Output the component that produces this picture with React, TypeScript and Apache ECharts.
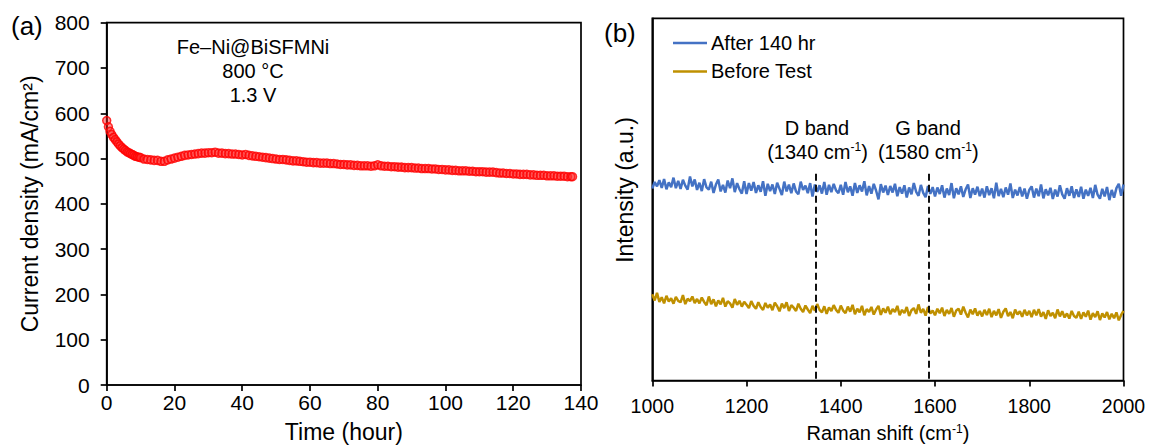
import { useEffect, useRef } from "react";
import * as echarts from "echarts";

const FONT = "'Liberation Sans', Arial, sans-serif";

// Panel (a): stability test at 800 °C, 1.3 V
const timeHours = [
  0, 0.5, 1, 1.5, 2, 2.5, 3, 3.5, 4, 4.5, 5, 5.5, 6, 6.5, 7, 7.5, 8, 8.5, 9, 9.5, 10,
  11, 12, 13, 14, 15, 16, 17, 18, 19, 20, 21, 22, 23, 24, 25, 26, 27, 28, 29, 30,
  31, 32, 33, 34, 35, 36, 37, 38, 39, 40, 41, 42, 43, 44, 45, 46, 47, 48, 49, 50,
  51, 52, 53, 54, 55, 56, 57, 58, 59, 60, 61, 62, 63, 64, 65, 66, 67, 68, 69, 70,
  71, 72, 73, 74, 75, 76, 77, 78, 79, 80, 81, 82, 83, 84, 85, 86, 87, 88, 89, 90,
  91, 92, 93, 94, 95, 96, 97, 98, 99, 100, 101, 102, 103, 104, 105, 106, 107, 108, 109, 110,
  111, 112, 113, 114, 115, 116, 117, 118, 119, 120, 121, 122, 123, 124, 125, 126, 127, 128, 129, 130,
  131, 132, 133, 134, 135, 136, 137, 137.5,
];
const currentDensity = [
  584, 570, 560, 553, 547, 542, 537, 532, 528, 524, 521, 518, 515, 513, 511, 509, 507, 505, 504, 503, 502,
  499, 498, 497, 496, 496, 494, 494, 497, 499, 501, 503, 505, 507, 508, 509, 510, 511, 512, 512, 513,
  513, 514, 512, 512, 511, 511, 510, 510, 509, 508, 509, 507, 506, 505, 504, 503, 502, 501, 500, 499,
  498, 498, 497, 496, 495, 495, 494, 493, 492, 492, 491, 491, 490, 490, 490, 489, 489, 488, 487, 487,
  486, 486, 485, 485, 484, 484, 484, 483, 484, 486, 484, 483, 483, 482, 482, 481, 481, 480, 480, 480,
  479, 479, 478, 478, 478, 477, 477, 476, 476, 475, 475, 474, 474, 473, 473, 473, 472, 472, 471, 471,
  471, 470, 470, 470, 469, 468, 468, 467, 467, 466, 466, 465, 465, 465, 464, 464, 463, 463, 463, 462,
  462, 462, 461, 461, 461, 460, 460, 460,
];

// Panel (b): Raman spectra, 1000–2000 cm-1 sampled every 5 cm-1
const ramanShift = Array.from({ length: 201 }, (_, i) => 1000 + i * 5);
const after140hr = [
  530, 548, 536, 553, 532, 556, 528, 547, 534, 560, 531, 551, 529, 554, 538, 527, 563, 536, 555, 526,
  546, 523, 556, 533, 527, 549, 518, 541, 555, 522, 540, 519, 552, 531, 558, 520, 545, 528, 516, 550,
  515, 545, 524, 548, 518, 539, 521, 550, 510, 543, 523, 541, 515, 546, 529, 512, 549, 522, 541, 517,
  544, 522, 514, 549, 526, 538, 517, 545, 508, 541, 521, 539, 516, 548, 513, 540, 520, 543, 525, 517,
  540, 513, 548, 520, 536, 510, 545, 518, 539, 522, 550, 511, 537, 516, 543, 524, 500, 542, 519, 538,
  512, 537, 519, 543, 509, 534, 516, 539, 505, 533, 514, 545, 521, 510, 540, 518, 506, 537, 515, 534,
  508, 533, 515, 539, 505, 530, 512, 545, 503, 531, 514, 536, 507, 528, 541, 504, 531, 513, 535, 509,
  530, 505, 536, 512, 531, 503, 546, 509, 529, 506, 533, 513, 544, 504, 527, 511, 534, 508, 530, 502,
  526, 536, 505, 530, 509, 541, 503, 528, 511, 532, 501, 527, 508, 539, 514, 502, 531, 510, 536, 504,
  528, 507, 535, 502, 527, 510, 532, 504, 540, 513, 502, 529, 508, 534, 498, 526, 505, 531, 543, 510,
  541,
];
const beforeTest = [
  238, 221, 242, 217, 230, 213, 234, 218, 227, 212, 231, 220, 216, 236, 211, 226, 219, 232, 214, 225,
  213, 229, 217, 208, 232, 211, 224, 205, 221, 210, 228, 204, 219, 213, 201, 225, 209, 220, 204, 217,
  209, 200, 219, 206, 198, 216, 203, 195, 214, 201, 210, 194, 215, 205, 191, 212, 200, 216, 192, 208,
  201, 192, 212, 198, 189, 207, 196, 186, 206, 193, 211, 195, 188, 205, 184, 202, 192, 208, 195, 187,
  207, 193, 186, 204, 190, 209, 183, 198, 188, 206, 180, 197, 189, 203, 182, 196, 206, 181, 199, 187,
  204, 183, 197, 189, 206, 180, 195, 186, 203, 178, 194, 200, 184, 210, 187, 198, 179, 203, 185, 193,
  180, 198, 186, 201, 178, 195, 184, 200, 176, 193, 198, 182, 204, 187, 174, 196, 183, 199, 179, 192,
  177, 195, 181, 198, 175, 192, 180, 197, 173, 190, 199, 178, 189, 172, 196, 182, 191, 176, 195, 180,
  192, 175, 195, 180, 197, 176, 189, 170, 194, 178, 187, 172, 196, 177, 191, 174, 185, 171, 192, 178,
  173, 190, 170, 188, 176, 193, 168, 186, 175, 191, 167, 185, 174, 189, 169, 184, 172, 188, 166, 181,
  192,
];
const bandPositions = [1347, 1586];
const bandLineTop = 571;
const bandNames = ["D band", "G band"];
const bandLabels = ["1340", "1580"];

export default function App() {
  const ref = useRef<HTMLDivElement>(null);

  useEffect(() => {
    if (!ref.current) return;
    const chart = echarts.init(ref.current, undefined, { renderer: "svg" });
    const black = "#000";
    const axisLine = { show: true, lineStyle: { color: black, width: 1.7 } };
    const axisTick = { show: true, inside: false, length: 6, lineStyle: { color: black, width: 1.7 } };
    const supRich = (size: number) => ({
      a: { fontSize: size, color: black, fill: black, fontFamily: FONT },
      s: { fontSize: Math.round(size * 0.6), color: black, fill: black, fontFamily: FONT, verticalAlign: "top", padding: [0, 0, Math.round(size * 0.45), 0] },
    });

    const gridA = { left: 106.7, top: 22.7, width: 474.3, height: 369 };
    const gridB = { left: 652.3, top: 18.3, width: 471.2, height: 365 };

    const option: any = {
      animation: false,
      textStyle: { fontFamily: FONT, color: black },
      grid: [
        { ...gridA, show: true, borderColor: black, borderWidth: 1.7, backgroundColor: "transparent" },
        { ...gridB, show: true, borderColor: black, borderWidth: 1.7, backgroundColor: "transparent" },
      ],
      xAxis: [
        {
          gridIndex: 0, type: "value", min: 0, max: 140, interval: 20,
          axisLine, axisTick,
          axisLabel: { color: black, fontSize: 21, fontFamily: FONT, margin: 7 },
          splitLine: { show: false },
          name: "Time (hour)", nameLocation: "middle", nameGap: 35,
          nameTextStyle: { fontSize: 23, color: black, fontFamily: FONT },
        },
        {
          gridIndex: 1, type: "value", min: 1000, max: 2000, interval: 200,
          axisLine, axisTick,
          axisLabel: { color: black, fontSize: 19.5, fontFamily: FONT, margin: 15, formatter: (v: number) => String(v) },
          splitLine: { show: false },
          name: "{a|Raman shift (cm}{s|-1}{a|)}", nameLocation: "middle", nameGap: 42,
          nameTextStyle: { rich: supRich(20) },
        },
      ],
      yAxis: [
        {
          gridIndex: 0, type: "value", min: 0, max: 800, interval: 100,
          axisLine, axisTick,
          axisLabel: { color: black, fontSize: 21, fontFamily: FONT, margin: 17 },
          splitLine: { show: false },
          name: "Current density (mA/cm²)", nameLocation: "middle", nameGap: 65,
          nameTextStyle: { fontSize: 23, color: black, fontFamily: FONT },
        },
        {
          gridIndex: 1, type: "value", min: 0, max: 1000,
          axisLine,
          axisTick: { show: false },
          axisLabel: { show: false },
          splitLine: { show: false },
        },
      ],
      legend: {
        data: ["After 140 hr", "Before Test"],
        orient: "vertical", left: 673, top: 33, itemGap: 8.4, padding: 0,
        itemWidth: 34, itemHeight: 2.5, icon: "rect",
        textStyle: { fontSize: 20, color: black, fontFamily: FONT, padding: [0, 0, 0, -1] },
      },
      series: [
        {
          name: "Current density", type: "scatter", xAxisIndex: 0, yAxisIndex: 0,
          data: timeHours.map((t, i) => [t, currentDensity[i]]),
          symbol: "circle", symbolSize: 8,
          itemStyle: { color: "rgba(255,40,40,0.6)", borderColor: "#ff0000", borderWidth: 1.5 },
        },
        {
          name: "After 140 hr", type: "line", xAxisIndex: 1, yAxisIndex: 1,
          data: ramanShift.map((x, i) => [x, after140hr[i]]),
          showSymbol: false, lineStyle: { color: "#4472C4", width: 2.5 }, itemStyle: { color: "#4472C4" },
        },
        {
          name: "Before Test", type: "line", xAxisIndex: 1, yAxisIndex: 1,
          data: ramanShift.map((x, i) => [x, beforeTest[i]]),
          showSymbol: false, lineStyle: { color: "#BF9000", width: 2.5 }, itemStyle: { color: "#BF9000" },
          markLine: {
            silent: true, symbol: "none", label: { show: false },
            lineStyle: { color: "#111", type: [7, 4], width: 2 },
            data: bandPositions.map((b) => [{ coord: [b, bandLineTop] }, { coord: [b, 0] }]),
          },
        },
      ],
      graphic: [
        { type: "text", x: 11, y: 26, style: { text: "(a)", fontSize: 26, fill: black, fontFamily: FONT, verticalAlign: "middle" } },
        { type: "text", x: 604, y: 32.5, style: { text: "(b)", fontSize: 26, fill: black, fontFamily: FONT, verticalAlign: "middle" } },
        { type: "text", x: 253, y: 46.7, style: { text: "Fe–Ni@BiSFMNi", fontSize: 20, fill: black, fontFamily: FONT, align: "center", verticalAlign: "middle" } },
        { type: "text", x: 253, y: 70.7, style: { text: "800 °C", fontSize: 20, fill: black, fontFamily: FONT, align: "center", verticalAlign: "middle" } },
        { type: "text", x: 253, y: 95, style: { text: "1.3 V", fontSize: 20, fill: black, fontFamily: FONT, align: "center", verticalAlign: "middle" } },
        {
          type: "text", x: 625, y: 190, rotation: Math.PI / 2,
          style: { text: "Intensity (a.u.)", fontSize: 23, fill: black, fontFamily: FONT, align: "center", verticalAlign: "middle" },
        },
        ...bandNames.map((n, i) => ({
          type: "text", x: i === 0 ? 817 : 928, y: 127.7,
          style: { text: n, fontSize: 20, fill: black, fontFamily: FONT, align: "center", verticalAlign: "middle" },
        })),
        ...bandLabels.map((l, i) => ({
          type: "text", x: i === 0 ? 817.5 : 928.3, y: 151.7,
          style: {
            text: `{a|(${l} cm}{s|-1}{a|)}`, align: "center", verticalAlign: "middle", fontFamily: FONT,
            rich: supRich(20),
          },
        })),
      ],
    };
    chart.setOption(option);
    return () => chart.dispose();
  }, []);

  return (
    <div
      ref={ref}
      style={{ position: "fixed", left: 0, top: 0, width: 1149, height: 448, background: "#fff" }}
    />
  );
}
